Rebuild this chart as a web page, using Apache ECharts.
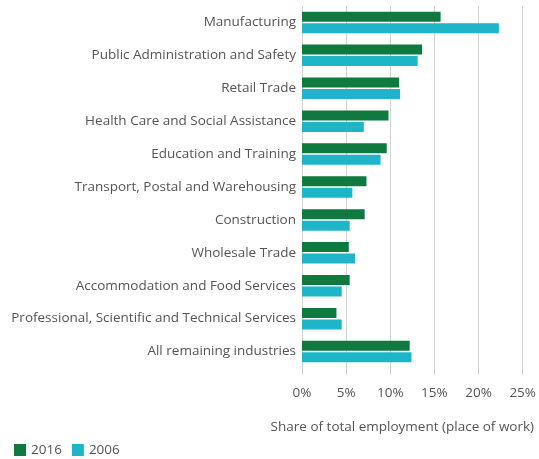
<!DOCTYPE html>
<html><head><meta charset="utf-8">
<script src="https://cdn.jsdelivr.net/npm/echarts@6/dist/echarts.min.js"></script>
<style>html,body{margin:0;padding:0;background:#fff}#c{width:539px;height:459px}</style>
</head><body><div id="c"></div>
<script>
const categories = ["Manufacturing","Public Administration and Safety","Retail Trade","Health Care and Social Assistance","Education and Training","Transport, Postal and Warehousing","Construction","Wholesale Trade","Accommodation and Food Services","Professional, Scientific and Technical Services","All remaining industries"];
const values2016 = [15.7,13.6,11.0,9.8,9.6,7.3,7.1,5.3,5.4,3.9,12.2];
const values2006 = [22.3,13.1,11.1,7.0,8.9,5.7,5.4,6.0,4.5,4.5,12.4];
const seriesNames = ["2016","2006"];
const xTicks = [0,5,10,15,20,25];
const chart = echarts.init(document.getElementById('c'));
const font = '"Open Sans", sans-serif';
chart.setOption({
  animation:false,
  grid:{left:302,right:13,top:6,height:362},
  legend:{left:9,top:438,itemWidth:12,itemHeight:12,itemGap:10,icon:'rect',
    textStyle:{fontFamily:font,fontSize:13.5,color:'#555'},data:seriesNames},
  xAxis:{type:'value',min:xTicks[0],max:xTicks[xTicks.length-1],interval:5,
    name:'Share of total employment (place of work)',nameLocation:'middle',nameGap:52,
    nameTextStyle:{fontFamily:font,fontSize:13.5,color:'#555',padding:[0,20,0,0]},
    axisLine:{show:false},axisTick:{show:true,length:6,lineStyle:{color:'#ccc'}},
    axisLabel:{margin:18,fontFamily:font,fontSize:13.5,color:'#555',formatter:v=>v+'%'},
    splitLine:{show:true,lineStyle:{color:'#d4d4d4'}}},
  yAxis:{type:'category',inverse:true,data:categories,
    axisLine:{show:false},axisTick:{show:false},
    axisLabel:{margin:6,fontFamily:font,fontSize:13.5,color:'#555'}},
  series:[
    {name:seriesNames[0],type:'bar',data:values2016,barWidth:10,barGap:'15%',
     itemStyle:{color:'#10793f'}},
    {name:seriesNames[1],type:'bar',data:values2006,barWidth:10,barGap:'15%',
     itemStyle:{color:'#1fb5c8'}}
  ]
});
</script></body></html>
